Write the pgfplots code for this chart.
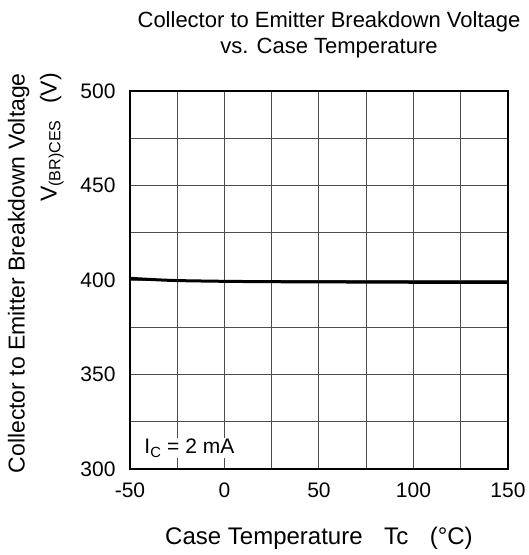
\documentclass[border=0pt]{standalone}
\usepackage{fontspec}
\setmainfont{Liberation Sans}
\usepackage{pgfplots}
\pgfplotsset{compat=1.18}

\begin{document}
\begin{tikzpicture}[x=1pt,y=1pt]
\begin{axis}[
  scale only axis, width=378pt, height=378pt,
  xmin=-50, xmax=150, ymin=300, ymax=500,
  xtick={-50,0,...,150}, ytick={300,350,...,500},
  minor xtick={-25,25,75,125}, minor ytick={325,375,425,475},
  grid=both,
  major grid style={black!70, line width=1pt},
  minor grid style={black!70, line width=1pt},
  major tick length=0pt, minor tick length=0pt,
  axis line style={black, line width=2.8pt},
  /pgf/number format/assume math mode=true,
  tick label style={font=\fontsize{21}{24}\selectfont},
  xticklabel style={yshift=-10pt},
  yticklabel style={xshift=-11pt},
  clip=false,
]
\addplot[black, line width=3pt, smooth] coordinates {
  (-50,400.9) (-37.5,400.2) (-25,399.7) (0,399.3) (25,399.1) (50,399.0) (75,398.9) (100,398.8) (125,398.7) (150,398.7)
};
\node[fill=white, inner sep=1pt, anchor=base west, font=\fontsize{21}{24}\selectfont]
  at (axis cs:-43,308) {I\textsubscript{C} = 2 mA};
\node[font=\fontsize{22}{26}\selectfont, align=center, anchor=center]
  at ([xshift=10pt, yshift=56pt]rel axis cs:0.5,1) {Collector to Emitter Breakdown Voltage\\vs. Case Temperature};
\node[font=\fontsize{23}{32}\selectfont, align=right, rotate=90, anchor=south east, inner sep=0pt]
  at ([xshift=-66pt, yshift=18pt]rel axis cs:0,1) {Collector to Emitter Breakdown Voltage\\V\textsubscript{(BR)CES}\hspace{0.7em}(V)};
\node[font=\fontsize{24}{28}\selectfont, anchor=center]
  at ([yshift=-69pt]rel axis cs:0.5,0) {Case Temperature\hspace{0.9em}Tc\hspace{0.9em}(\textdegree C)};
\end{axis}
\pgfresetboundingbox
\path[use as bounding box] ([xshift=-130pt,yshift=-86pt]current axis.south west) rectangle ([xshift=21pt,yshift=91pt]current axis.north east);
\end{tikzpicture}
\end{document}
